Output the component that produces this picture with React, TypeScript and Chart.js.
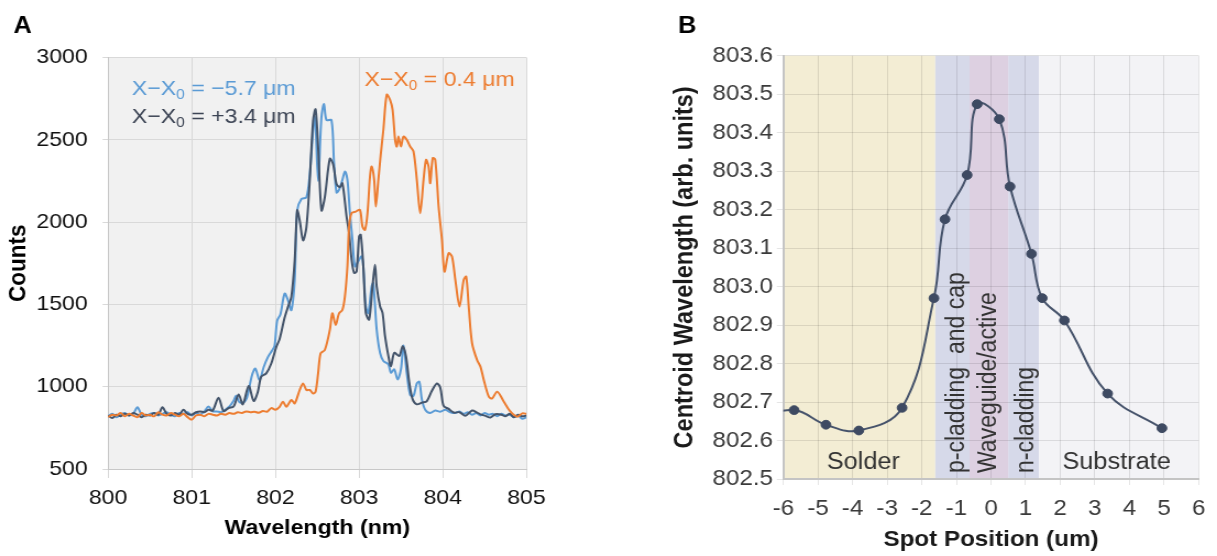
import React, { useEffect, useRef } from 'react';
import { Chart, registerables } from 'chart.js';

Chart.register(...registerables);

const FONT = "'Liberation Sans', Arial, Helvetica, sans-serif";

// ---------------- Panel A data (spectra) ----------------
const blueWavelength = [
  800.00, 800.05, 800.10, 800.15, 800.20, 800.25, 800.30, 800.35, 800.40, 800.45,
  800.50, 800.55, 800.60, 800.65, 800.70, 800.75, 800.80, 800.85, 800.90, 800.95,
  801.00, 801.05, 801.10, 801.15, 801.20, 801.25, 801.30, 801.35, 801.40, 801.45, 801.50,
  801.53, 801.57, 801.62, 801.66, 801.72, 801.76, 801.81, 801.86, 801.91, 801.96, 801.99,
  802.02, 802.06, 802.11, 802.15, 802.19, 802.23, 802.26, 802.31, 802.37, 802.41,
  802.47, 802.51, 802.55, 802.58, 802.61, 802.67, 802.70, 802.73, 802.76, 802.80,
  802.83, 802.86, 802.89, 802.92, 802.95, 802.99, 803.03, 803.05, 803.08, 803.11,
  803.15, 803.17, 803.21, 803.25, 803.29, 803.35, 803.38, 803.42, 803.46, 803.50,
  803.53, 803.57, 803.61, 803.65, 803.69, 803.72, 803.75, 803.79, 803.85, 803.91,
  803.97, 804.03, 804.09, 804.15, 804.20, 804.25, 804.30, 804.35, 804.40, 804.45,
  804.50, 804.55, 804.60, 804.65, 804.70, 804.75, 804.80, 804.85, 804.90, 804.95, 805.00,
];
const blueCounts = [
  820, 835, 815, 830, 840, 825, 835, 875, 830, 820,
  835, 840, 825, 835, 845, 830, 820, 840, 835, 845,
  825, 840, 830, 850, 880, 850, 850, 845, 860, 880, 915,
  945, 905, 905, 935, 1070, 1110, 1040, 1120, 1180, 1220, 1250,
  1400, 1440, 1566, 1525, 1465, 1650, 2070, 2140, 2150, 2290,
  2640, 2250, 2640, 2717, 2620, 2620, 2360, 2180, 2196, 2256,
  2307, 2256, 2054, 1893, 1731, 1762, 1792, 1731, 1489, 1448,
  1610, 1630, 1347, 1206, 1156, 1135, 1085, 1105, 1044, 1105,
  1250, 1081, 950, 945, 1020, 1030, 923, 860, 840, 855,
  848, 860, 845, 840, 850, 835, 845, 830, 840, 825,
  840, 830, 835, 820, 835, 825, 830, 815, 825, 805, 815,
];

const darkWavelength = [
  800.00, 800.05, 800.10, 800.15, 800.20, 800.25, 800.30, 800.35, 800.40, 800.45,
  800.50, 800.55, 800.60, 800.65, 800.70, 800.75, 800.80, 800.85, 800.90, 800.95,
  801.00, 801.05, 801.10, 801.15, 801.20, 801.25,
  801.32, 801.38, 801.44, 801.50, 801.56, 801.61, 801.68, 801.74, 801.79, 801.83,
  801.89, 801.95, 802.01, 802.05, 802.11, 802.15, 802.19, 802.23, 802.26, 802.29,
  802.33, 802.37, 802.41, 802.45, 802.48, 802.51, 802.55, 802.59, 802.65, 802.69,
  802.73, 802.77, 802.80, 802.85, 802.88, 802.91, 802.94, 802.97, 803.00, 803.02,
  803.05, 803.08, 803.12, 803.16, 803.19, 803.21, 803.25, 803.28, 803.31, 803.35,
  803.38, 803.42, 803.48, 803.52, 803.56, 803.60, 803.64, 803.69, 803.75, 803.81,
  803.87, 803.93, 803.97, 804.01, 804.07, 804.13, 804.20, 804.27, 804.35, 804.41,
  804.46, 804.51, 804.57, 804.63, 804.70, 804.75, 804.80, 804.85, 804.90, 804.95, 805.00,
];
const darkCounts = [
  825, 810, 830, 820, 835, 825, 840, 830, 815, 830,
  825, 840, 830, 875, 835, 825, 840, 830, 860, 835,
  830, 845, 850, 845, 860, 855,
  933, 852, 870, 880, 953, 893, 1004, 913, 970, 1061,
  1081, 1141, 1242, 1290, 1420, 1485, 1545, 1768, 2071, 2010,
  1889, 1970, 2252, 2616, 2685, 2455, 2071, 2151, 2385, 2350,
  2232, 2212, 2236, 2034, 1933, 1772, 1691, 1701, 1913, 1923,
  1731, 1448, 1408, 1610, 1741, 1610, 1489, 1448, 1307, 1186,
  1125, 1206, 1186, 1246, 1186, 1024, 923, 893, 903, 913,
  975, 1020, 994, 883, 865, 843, 845, 823, 855, 843,
  830, 823, 813, 833, 830, 820, 835, 815, 830, 820, 825,
];

const orangeWavelength = [
  800.00, 800.05, 800.10, 800.15, 800.20, 800.25, 800.30, 800.35, 800.40, 800.45,
  800.50, 800.55, 800.60, 800.65, 800.70, 800.75, 800.80, 800.85, 800.90, 800.95,
  801.00, 801.05, 801.10, 801.15, 801.20, 801.25, 801.30, 801.35, 801.40, 801.45,
  801.50, 801.55, 801.60, 801.65, 801.70, 801.75, 801.80, 801.85, 801.90,
  801.95, 802.00, 802.05, 802.09, 802.13, 802.19, 802.23, 802.29, 802.33, 802.37,
  802.41, 802.45, 802.48, 802.51, 802.54, 802.59, 802.65, 802.68, 802.72, 802.76,
  802.80, 802.83, 802.86, 802.88, 802.91, 802.96, 803.01, 803.04, 803.07, 803.10,
  803.13, 803.15, 803.18, 803.20, 803.23, 803.26, 803.29, 803.33, 803.37, 803.40,
  803.43, 803.45, 803.47, 803.50, 803.53, 803.57, 803.61, 803.65, 803.69, 803.73,
  803.77, 803.80, 803.83, 803.85, 803.88, 803.91, 803.95, 803.99, 804.02, 804.07,
  804.11, 804.15, 804.20, 804.25, 804.28, 804.31, 804.35, 804.41, 804.45, 804.49,
  804.55, 804.59, 804.65, 804.73, 804.81, 804.89, 804.95, 805.00,
];
const orangeCounts = [
  815, 830, 825, 840, 820, 835, 825, 815, 840, 825,
  830, 820, 845, 830, 825, 840, 830, 820, 835, 815,
  800, 825, 830, 820, 835, 830, 825, 835, 830, 840,
  835, 845, 840, 850, 845, 848, 842, 852, 848,
  870, 860, 878, 909, 878, 919, 899, 980, 1020, 980,
  980, 959, 970, 1081, 1203, 1223, 1345, 1446, 1375, 1446,
  1466, 1547, 1730, 1973, 2054, 2064, 2074, 1973, 1953, 2054,
  2277, 2338, 2257, 2095, 2257, 2419, 2561, 2774, 2743, 2682,
  2500, 2459, 2520, 2459, 2520, 2500, 2459, 2429, 2257, 2054,
  2257, 2378, 2338, 2236, 2389, 2378, 2095, 1892, 1699, 1811,
  1791, 1649, 1487, 1649, 1669, 1487, 1264, 1162, 1122, 1041,
  939, 929, 970, 909, 848, 818, 838, 835,
];

const legendPrefix = 'X−X';
const legendSub = '0';
const legendValues = ['= −5.7 μm', '= +3.4 μm', '= 0.4 μm'];
const seriesColors = ['#5b9bd5', '#44546a', '#ed7d31'];
const wavelengthTicks = [800, 801, 802, 803, 804, 805];
const countTicks = [500, 1000, 1500, 2000, 2500, 3000];

// ---------------- Panel B data (centroid vs spot position) ----------------
const spotPosition = [-6.7, -5.69, -4.77, -3.82, -2.57, -1.65, -1.33, -0.69, -0.40, 0.24, 0.55, 1.17, 1.48, 2.12, 3.37, 4.94];
const centroidWavelength = [802.66, 802.679, 802.641, 802.626, 802.685, 802.97, 803.175, 803.29, 803.474, 803.435, 803.26, 803.085, 802.97, 802.912, 802.722, 802.632];
const regionNames = ['Solder', 'p-cladding  and cap', 'Waveguide/active', 'n-cladding', 'Substrate'];
const regionStart = [-6, -1.61, -0.62, 0.50, 1.39];
const regionEnd = [-1.61, -0.62, 0.50, 1.39, 6];
const regionLabelX = [-3.69, -0.97, -0.05, 1.02, 3.63];
const regionVertical = [false, true, true, true, false];
const regionColors = ['#f3edd4', '#d6d9e9', '#ddd0e1', '#d6d9e9', '#f3f3f6'];
const spotTicks = [-6, -5, -4, -3, -2, -1, 0, 1, 2, 3, 4, 5, 6];
const centroidTicks = [802.5, 802.6, 802.7, 802.8, 802.9, 803.0, 803.1, 803.2, 803.3, 803.4, 803.5, 803.6];

// ---------------- Layout (final page pixels) ----------------
const STRETCH = 1.1; // the reference figure is widened horizontally
const H = 556;
const A_CSS_W = 600;
const B_LEFT = 600;
const B_CSS_W = 617;
const A_W = Math.round(A_CSS_W / STRETCH);
const B_W = Math.round(B_CSS_W / STRETCH);
const sx = (v: number) => v / STRETCH;

const A_PLOT = { left: 108, right: 526, top: 57.5, bottom: 469 };
const B_PLOT = { left: 783.4 - B_LEFT, right: 1205 - B_LEFT, top: 55.7, bottom: 479 };

function pts(xs: number[], ys: number[]) {
  return xs.map((x, i) => ({ x, y: ys[i] }));
}

function drawLegendLine(ctx: CanvasRenderingContext2D, x: number, y: number, color: string, value: string) {
  ctx.fillStyle = color;
  ctx.textAlign = 'left';
  ctx.textBaseline = 'alphabetic';
  ctx.font = `21px ${FONT}`;
  ctx.fillText(legendPrefix, x, y);
  let cx = x + ctx.measureText(legendPrefix).width;
  ctx.font = `14px ${FONT}`;
  ctx.fillText(legendSub, cx, y + 3.5);
  cx += ctx.measureText(legendSub).width;
  ctx.font = `21px ${FONT}`;
  ctx.fillText(' ' + value, cx, y);
}

function makeChartA(canvas: HTMLCanvasElement) {
  const panelA = {
    id: 'panelA',
    beforeDraw(chart: any) {
      const { ctx, chartArea: ca } = chart;
      ctx.save();
      ctx.fillStyle = '#f1f1f1';
      ctx.fillRect(ca.left, ca.top, ca.right - ca.left, ca.bottom - ca.top);
      ctx.restore();
    },
    afterDraw(chart: any) {
      const { ctx } = chart;
      ctx.save();
      ctx.fillStyle = '#000';
      ctx.font = `bold 23px ${FONT}`;
      ctx.textAlign = 'left';
      ctx.textBaseline = 'alphabetic';
      ctx.fillText('A', sx(13.6), 33.3);
      drawLegendLine(ctx, sx(131.7), 95, seriesColors[0], legendValues[0]);
      drawLegendLine(ctx, sx(131.7), 123.3, '#3d4555', legendValues[1]);
      drawLegendLine(ctx, sx(364), 86, seriesColors[2], legendValues[2]);
      ctx.restore();
    },
  };

  return new Chart(canvas, {
    type: 'line',
    data: {
      datasets: [
        { label: 'X−X₀ = 0.4 μm', data: pts(orangeWavelength, orangeCounts), borderColor: seriesColors[2] },
        { label: 'X−X₀ = +3.4 μm', data: pts(darkWavelength, darkCounts), borderColor: seriesColors[1] },
        { label: 'X−X₀ = −5.7 μm', data: pts(blueWavelength, blueCounts), borderColor: seriesColors[0] },
      ],
    },
    options: {
      responsive: false,
      maintainAspectRatio: false,
      animation: false,
      events: [],
      layout: { padding: { top: A_PLOT.top, right: A_W - sx(A_PLOT.right), left: 0, bottom: 0 } },
      elements: {
        point: { radius: 0 },
        line: { borderWidth: 2, tension: 0.3, fill: false },
      },
      plugins: { legend: { display: false }, tooltip: { enabled: false } },
      scales: {
        x: {
          type: 'linear',
          min: 800,
          max: 805,
          afterFit: (s: any) => { s.height = H - A_PLOT.bottom; },
          afterBuildTicks: (s: any) => { s.ticks = wavelengthTicks.map((v) => ({ value: v })); },
          ticks: {
            font: { family: FONT, size: 21 },
            color: '#111',
            padding: 8,
            maxRotation: 0,
            callback: (v: any) => String(v),
          },
          grid: { color: '#d9d9d9', lineWidth: 1, tickLength: 9 },
          border: { color: '#c8c8c8', width: 1 },
          title: {
            display: true,
            text: 'Wavelength (nm)',
            color: '#000',
            font: { family: FONT, size: 21, weight: 'bold' },
            padding: { top: 0, bottom: 14.7 },
          },
        },
        y: {
          type: 'linear',
          min: 500,
          max: 3000,
          afterFit: (s: any) => { s.width = sx(A_PLOT.left); },
          afterBuildTicks: (s: any) => { s.ticks = countTicks.map((v) => ({ value: v })); },
          ticks: {
            font: { family: FONT, size: 21 },
            color: '#111',
            padding: 13.5,
            callback: (v: any) => String(v),
          },
          grid: { color: '#d9d9d9', lineWidth: 1, tickLength: 5 },
          border: { color: '#c8c8c8', width: 1 },
          title: {
            display: true,
            text: 'Counts',
            color: '#000',
            font: { family: FONT, size: 22.5, weight: 'bold' },
            padding: { top: 2.8, bottom: 0 },
          },
        },
      },
    } as any,
    plugins: [panelA],
  } as any);
}

function makeChartB(canvas: HTMLCanvasElement) {
  const panelB = {
    id: 'panelB',
    beforeDraw(chart: any) {
      const { ctx, chartArea: ca, scales } = chart;
      const xs = scales.x;
      ctx.save();
      regionStart.forEach((start, i) => {
        const x1 = xs.getPixelForValue(start);
        const x2 = xs.getPixelForValue(regionEnd[i]);
        ctx.fillStyle = regionColors[i];
        ctx.fillRect(x1, ca.top, x2 - x1, ca.bottom - ca.top);
      });
      ctx.restore();
    },
    afterDraw(chart: any) {
      const { ctx, chartArea: ca, scales } = chart;
      const xs = scales.x;
      ctx.save();
      ctx.fillStyle = '#000';
      ctx.font = `bold 23px ${FONT}`;
      ctx.textAlign = 'left';
      ctx.textBaseline = 'alphabetic';
      ctx.fillText('B', sx(678 - B_LEFT), 33.3);

      ctx.font = `23px ${FONT}`;
      ctx.fillStyle = '#333';
      regionNames.forEach((name, i) => {
        const x = xs.getPixelForValue(regionLabelX[i]);
        if (regionVertical[i]) {
          ctx.save();
          ctx.translate(x, ca.bottom - 6);
          ctx.rotate(-Math.PI / 2);
          ctx.textAlign = 'left';
          ctx.textBaseline = 'middle';
          ctx.fillText(name, 0, 0);
          ctx.restore();
        } else {
          ctx.textAlign = 'center';
          ctx.textBaseline = 'alphabetic';
          ctx.fillText(name, x, ca.bottom - 10);
        }
      });
      ctx.restore();
    },
  };

  return new Chart(canvas, {
    type: 'line',
    data: {
      datasets: [
        {
          label: 'Centroid wavelength',
          data: pts(spotPosition, centroidWavelength),
          borderColor: '#46536b',
          borderWidth: 2,
          tension: 0.4,
          pointRadius: 4.4,
          pointBackgroundColor: '#3e4a62',
          pointBorderColor: '#3e4a62',
          pointBorderWidth: 1,
        },
      ],
    },
    options: {
      responsive: false,
      maintainAspectRatio: false,
      animation: false,
      events: [],
      layout: { padding: { top: B_PLOT.top, right: B_W - sx(B_PLOT.right), left: 0, bottom: 0 } },
      plugins: { legend: { display: false }, tooltip: { enabled: false } },
      scales: {
        x: {
          type: 'linear',
          min: -6,
          max: 6,
          afterFit: (s: any) => { s.height = H - B_PLOT.bottom; },
          afterBuildTicks: (s: any) => { s.ticks = spotTicks.map((v) => ({ value: v })); },
          ticks: {
            font: { family: FONT, size: 22 },
            color: '#3a3a3a',
            padding: 10.6,
            maxRotation: 0,
            callback: (v: any) => String(v),
          },
          grid: { color: 'rgba(0,0,0,0.1)', lineWidth: 1, tickLength: 6 },
          border: { color: '#c4c4c4', width: 2 },
          title: {
            display: true,
            text: 'Spot Position (um)',
            color: '#1a1a1a',
            font: { family: FONT, size: 22, weight: 'bold' },
            padding: { top: 0, bottom: 2.8 },
          },
        },
        y: {
          type: 'linear',
          min: 802.5,
          max: 803.6,
          afterFit: (s: any) => { s.width = sx(B_PLOT.left); },
          afterBuildTicks: (s: any) => { s.ticks = centroidTicks.map((v) => ({ value: v })); },
          ticks: {
            font: { family: FONT, size: 22 },
            color: '#3a3a3a',
            padding: 3.5,
            callback: (v: any) => Number(v).toFixed(1),
          },
          grid: { color: 'rgba(0,0,0,0.1)', lineWidth: 1, tickLength: 6 },
          border: { color: '#c4c4c4', width: 2 },
          title: {
            display: true,
            text: 'Centroid Wavelength (arb. units)',
            color: '#1a1a1a',
            font: { family: FONT, size: 23.5, weight: 'bold' },
            padding: { top: sx(685 - B_LEFT) - 14.1, bottom: 0 },
          },
        },
      },
    } as any,
    plugins: [panelB],
  } as any);
}

export default function App() {
  const aRef = useRef<HTMLCanvasElement>(null);
  const bRef = useRef<HTMLCanvasElement>(null);

  useEffect(() => {
    const a = makeChartA(aRef.current as HTMLCanvasElement);
    const b = makeChartB(bRef.current as HTMLCanvasElement);
    return () => {
      a.destroy();
      b.destroy();
    };
  }, []);

  return (
    <div style={{ position: 'fixed', left: 0, top: 0, width: 1217, height: H, background: '#fff', overflow: 'hidden' }}>
      <canvas
        ref={aRef}
        width={A_W}
        height={H}
        style={{ position: 'absolute', left: 0, top: 0, width: A_CSS_W, height: H }}
      />
      <canvas
        ref={bRef}
        width={B_W}
        height={H}
        style={{ position: 'absolute', left: B_LEFT, top: 0, width: B_CSS_W, height: H }}
      />
    </div>
  );
}
